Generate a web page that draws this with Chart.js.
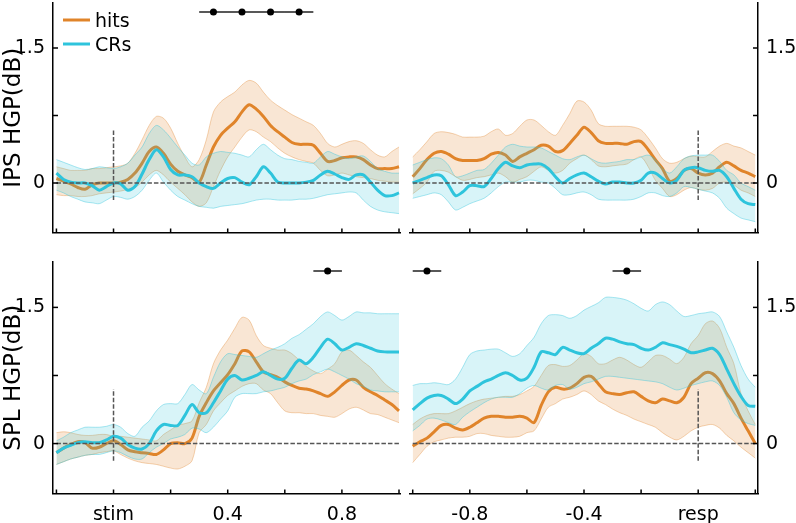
<!DOCTYPE html>
<html>
<head>
<meta charset="utf-8">
<script src="https://cdn.jsdelivr.net/npm/chart.js@4.4.0/dist/chart.umd.min.js"></script>
<style>
  html, body { margin: 0; padding: 0; background: #fff; }
  #wrap { position: relative; width: 796px; height: 523px; }
  #wrap canvas { position: absolute; left: 0; top: 0; }
</style>
</head>
<body>
<div id="wrap">
  <canvas id="ipsStim" width="796" height="523"></canvas>
  <canvas id="ipsResp" width="796" height="523"></canvas>
  <canvas id="splStim" width="796" height="523"></canvas>
  <canvas id="splResp" width="796" height="523"></canvas>
</div>
<script>
// Datos
const timeStim = [-0.2,-0.175,-0.15,-0.125,-0.1,-0.075,-0.05,-0.025,0,0.025,0.05,0.075,0.1,0.125,0.15,0.175,0.2,0.225,0.25,0.275,0.3,0.325,0.35,0.375,0.4,0.425,0.45,0.475,0.5,0.525,0.55,0.575,0.6,0.625,0.65,0.675,0.7,0.725,0.75,0.775,0.8,0.825,0.85,0.875,0.9,0.925,0.95,0.975,1.0];
const timeResp = [-1.0,-0.975,-0.95,-0.925,-0.9,-0.875,-0.85,-0.825,-0.8,-0.775,-0.75,-0.725,-0.7,-0.675,-0.65,-0.625,-0.6,-0.575,-0.55,-0.525,-0.5,-0.475,-0.45,-0.425,-0.4,-0.375,-0.35,-0.325,-0.3,-0.275,-0.25,-0.225,-0.2,-0.175,-0.15,-0.125,-0.1,-0.075,-0.05,-0.025,0,0.025,0.05,0.075,0.1,0.125,0.15,0.175,0.2];

const stimTicks = [-0.2,0,0.2,0.4,0.6,0.8,1.0];
const stimLabelValues = [0,0.4,0.8];
const stimLabelTexts = ['stim','0.4','0.8'];
const respTicks = [-1.0,-0.8,-0.6,-0.4,-0.2,0,0.2];
const respLabelValues = [-0.8,-0.4,0];
const respLabelTexts = ['-0.8','-0.4','resp'];
const yTicks = [0,0.75,1.5];
const yTickLabels = ['0','','1.5'];

// IPS, alineado al estímulo
const ipsStimHits = [0.05,0.02,-0.01,-0.05,-0.07,-0.02,0,0,0,0.01,0.04,0.11,0.22,0.35,0.40,0.33,0.21,0.13,0.09,0.06,0.01,0.20,0.40,0.53,0.61,0.68,0.79,0.87,0.82,0.74,0.64,0.57,0.51,0.45,0.43,0.43,0.42,0.33,0.24,0.25,0.28,0.29,0.29,0.26,0.20,0.16,0.16,0.16,0.18];
const ipsStimHitsHi = [0.18,0.16,0.14,0.14,0.14,0.16,0.16,0.17,0.18,0.19,0.22,0.33,0.48,0.64,0.74,0.72,0.61,0.44,0.29,0.18,0.26,0.48,0.79,0.90,0.96,1.01,1.09,1.14,1.11,1.01,0.92,0.86,0.81,0.76,0.72,0.68,0.64,0.55,0.44,0.40,0.43,0.46,0.47,0.44,0.37,0.31,0.29,0.35,0.40];
const ipsStimHitsLo = [-0.13,-0.14,-0.14,-0.15,-0.15,-0.14,-0.12,-0.11,-0.10,-0.09,-0.07,-0.05,0.01,0.09,0.14,0.09,0.01,-0.06,-0.13,-0.21,-0.26,-0.22,-0.04,0.14,0.29,0.40,0.51,0.59,0.57,0.51,0.46,0.39,0.33,0.29,0.26,0.24,0.22,0.14,0.08,0.09,0.11,0.09,0.07,0.06,0.05,0.03,0.02,0.01,0.01];
const ipsStimCRs = [0.11,0.04,0.01,0,0,-0.03,-0.08,-0.04,0,-0.01,-0.08,-0.04,0.10,0.26,0.37,0.29,0.15,0.09,0.09,0.07,0,-0.04,-0.06,0,0.05,0.06,0.01,-0.02,0.07,0.18,0.11,0.01,0,0,0,0.01,0.03,0.09,0.13,0.10,0.06,0.04,0.09,0.09,0.01,-0.08,-0.14,-0.14,-0.11];
const ipsStimCRsHi = [0.26,0.23,0.20,0.17,0.15,0.16,0.18,0.17,0.16,0.18,0.22,0.31,0.40,0.55,0.64,0.59,0.50,0.40,0.31,0.22,0.20,0.29,0.33,0.35,0.34,0.33,0.31,0.29,0.37,0.43,0.37,0.31,0.27,0.26,0.24,0.23,0.22,0.29,0.35,0.32,0.29,0.27,0.29,0.30,0.24,0.16,0.13,0.11,0.11];
const ipsStimCRsLo = [-0.08,-0.11,-0.15,-0.18,-0.21,-0.22,-0.23,-0.19,-0.15,-0.16,-0.18,-0.15,-0.08,0.03,0.11,0.01,-0.08,-0.15,-0.19,-0.23,-0.26,-0.27,-0.28,-0.26,-0.25,-0.24,-0.23,-0.21,-0.19,-0.18,-0.18,-0.19,-0.19,-0.19,-0.18,-0.18,-0.17,-0.15,-0.13,-0.12,-0.11,-0.10,-0.11,-0.19,-0.26,-0.30,-0.32,-0.33,-0.34];

// IPS, alineado a la respuesta
const ipsRespHits = [0.07,0.16,0.26,0.33,0.35,0.32,0.27,0.25,0.25,0.25,0.27,0.32,0.34,0.31,0.24,0.29,0.33,0.37,0.42,0.41,0.35,0.36,0.44,0.53,0.62,0.56,0.47,0.44,0.44,0.44,0.43,0.46,0.46,0.37,0.26,0.16,0.02,0.05,0.14,0.16,0.11,0.09,0.11,0.18,0.23,0.19,0.14,0.11,0.07];
const ipsRespHitsHi = [0.29,0.37,0.46,0.55,0.57,0.56,0.54,0.51,0.51,0.51,0.52,0.57,0.60,0.53,0.55,0.63,0.70,0.70,0.64,0.57,0.53,0.64,0.77,0.91,0.90,0.81,0.66,0.63,0.63,0.63,0.63,0.62,0.59,0.50,0.39,0.27,0.22,0.23,0.27,0.30,0.29,0.29,0.35,0.41,0.44,0.41,0.39,0.35,0.31];
const ipsRespHitsLo = [-0.12,-0.06,0.01,0.13,0.14,0.12,0.07,0.03,0.04,0.06,0.07,0.09,0.11,0.07,0.01,0.04,0.07,0.13,0.18,0.14,0.11,0.14,0.22,0.27,0.31,0.26,0.19,0.18,0.19,0.20,0.21,0.26,0.29,0.18,0.03,-0.06,-0.15,-0.13,-0.08,-0.05,-0.07,-0.08,-0.06,0,0.01,-0.02,-0.08,-0.11,-0.15];
const ipsRespCRs = [0,0.03,0.06,0.09,0.08,-0.02,-0.14,-0.10,-0.03,-0.03,-0.04,0.05,0.16,0.23,0.19,0.17,0.20,0.21,0.21,0.16,0.07,0,0.05,0.09,0.11,0.07,0.02,-0.01,0.01,0.01,0,0,0.03,0.11,0.11,0.05,0,0.03,0.14,0.17,0.17,0.14,0.13,0.14,0.07,-0.06,-0.18,-0.23,-0.24];
const ipsRespCRsHi = [0.20,0.23,0.26,0.28,0.27,0.20,0.07,0.08,0.11,0.14,0.15,0.22,0.31,0.40,0.43,0.41,0.40,0.40,0.39,0.35,0.31,0.27,0.26,0.29,0.31,0.27,0.23,0.22,0.23,0.24,0.26,0.26,0.29,0.31,0.26,0.16,0.11,0.18,0.27,0.30,0.31,0.31,0.31,0.24,0.14,0.09,0,-0.04,-0.08];
const ipsRespCRsLo = [-0.17,-0.15,-0.13,-0.11,-0.13,-0.21,-0.30,-0.27,-0.23,-0.20,-0.17,-0.11,-0.04,0.01,0.01,0.01,0.03,0.03,0.01,0,-0.06,-0.13,-0.13,-0.11,-0.10,-0.13,-0.18,-0.19,-0.19,-0.19,-0.19,-0.18,-0.15,-0.11,-0.11,-0.14,-0.15,-0.11,-0.04,-0.05,-0.07,-0.09,-0.11,-0.17,-0.28,-0.34,-0.39,-0.41,-0.43];

// SPL, alineado al estímulo
const splStimHits = [-0.10,-0.05,-0.01,0.02,0.01,-0.05,-0.04,0,0.03,-0.01,-0.07,-0.09,-0.10,-0.11,-0.12,-0.07,0,0.01,0,0.06,0.30,0.45,0.58,0.67,0.76,0.88,1.02,1.01,0.90,0.79,0.76,0.73,0.68,0.64,0.61,0.60,0.58,0.55,0.52,0.57,0.64,0.70,0.70,0.62,0.57,0.53,0.48,0.43,0.36];
const splStimHitsHi = [0.12,0.13,0.12,0.10,0.09,0.09,0.10,0.10,0.08,0.08,0.07,0.06,0.05,0.04,0.03,0.10,0.15,0.20,0.22,0.25,0.45,0.62,0.88,1.03,1.14,1.27,1.39,1.36,1.19,1.08,1.05,1.03,1.03,0.99,0.92,0.85,0.80,0.77,0.82,0.88,1.01,1.03,0.97,0.90,0.84,0.75,0.66,0.60,0.55];
const splStimHitsLo = [-0.23,-0.20,-0.17,-0.15,-0.13,-0.12,-0.10,-0.09,-0.08,-0.12,-0.16,-0.19,-0.21,-0.22,-0.23,-0.25,-0.27,-0.28,-0.25,-0.19,0.12,0.21,0.36,0.45,0.53,0.58,0.63,0.66,0.66,0.59,0.55,0.45,0.36,0.34,0.34,0.33,0.33,0.31,0.30,0.29,0.33,0.38,0.40,0.37,0.33,0.32,0.29,0.26,0.23];
const splStimCRs = [-0.10,-0.05,-0.02,0.01,0.02,0.01,0.01,0.04,0.08,0.06,-0.01,-0.05,-0.06,0,0.14,0.21,0.20,0.20,0.31,0.43,0.34,0.34,0.45,0.58,0.71,0.75,0.70,0.72,0.75,0.79,0.75,0.71,0.72,0.83,0.92,0.88,0.95,1.06,1.15,1.10,1.03,1.06,1.10,1.08,1.05,1.02,1.01,1.01,1.01];
const splStimCRsHi = [0.03,0.07,0.12,0.15,0.18,0.18,0.18,0.19,0.21,0.18,0.11,0.08,0.18,0.25,0.36,0.43,0.44,0.44,0.54,0.65,0.59,0.55,0.73,0.90,0.99,0.98,0.97,0.96,0.95,0.99,1.03,1.06,1.10,1.16,1.20,1.26,1.32,1.40,1.45,1.41,1.36,1.40,1.45,1.44,1.44,1.43,1.43,1.43,1.43];
const splStimCRsLo = [-0.23,-0.20,-0.17,-0.15,-0.13,-0.12,-0.12,-0.10,-0.08,-0.10,-0.14,-0.17,-0.17,-0.10,-0.04,0,0.05,0.07,0.10,0.17,0.16,0.12,0.18,0.27,0.36,0.51,0.55,0.55,0.55,0.57,0.58,0.60,0.62,0.66,0.69,0.71,0.76,0.79,0.82,0.79,0.75,0.71,0.66,0.63,0.59,0.58,0.57,0.57,0.57];

// SPL, alineado a la respuesta
const splRespHits = [-0.03,0.02,0.06,0.13,0.20,0.21,0.17,0.15,0.18,0.23,0.28,0.30,0.30,0.29,0.29,0.30,0.28,0.23,0.42,0.57,0.62,0.60,0.61,0.66,0.73,0.74,0.66,0.57,0.55,0.54,0.56,0.57,0.52,0.47,0.45,0.49,0.47,0.45,0.51,0.66,0.72,0.78,0.77,0.69,0.55,0.44,0.28,0.14,0];
const splRespHitsHi = [0.21,0.27,0.31,0.33,0.33,0.33,0.36,0.40,0.44,0.47,0.49,0.50,0.51,0.52,0.52,0.54,0.58,0.63,0.75,0.86,0.87,0.85,0.86,0.92,0.99,0.96,0.88,0.88,0.92,0.95,0.92,0.87,0.84,0.90,0.97,0.97,0.93,0.88,0.95,1.10,1.19,1.32,1.35,1.27,1.06,0.88,0.55,0.36,0.21];
const splRespHitsLo = [-0.21,-0.12,-0.03,0.02,0.04,0.06,0.07,0.07,0.08,0.11,0.11,0.09,0.08,0.07,0.07,0.08,0.12,0.14,0.27,0.40,0.44,0.49,0.51,0.54,0.58,0.54,0.47,0.43,0.38,0.34,0.31,0.27,0.24,0.21,0.18,0.12,0.07,0.04,0.08,0.14,0.18,0.20,0.21,0.17,0.09,0.03,-0.04,-0.10,-0.16];
const splRespCRs = [0.37,0.44,0.50,0.53,0.53,0.49,0.44,0.49,0.58,0.63,0.68,0.71,0.75,0.78,0.75,0.70,0.72,0.84,1.01,1.00,0.98,1.06,1.03,1.00,0.99,1.05,1.10,1.16,1.15,1.12,1.10,1.09,1.05,1.03,1.06,1.11,1.09,1.07,1.04,1.00,1.01,1.03,1.05,0.98,0.82,0.66,0.52,0.42,0.41];
const splRespCRsHi = [0.64,0.66,0.66,0.67,0.66,0.65,0.71,0.84,0.98,1.02,1.03,1.04,1.04,1.00,0.96,0.99,1.08,1.17,1.32,1.41,1.42,1.41,1.38,1.41,1.47,1.51,1.55,1.61,1.61,1.60,1.58,1.54,1.49,1.46,1.53,1.56,1.53,1.46,1.40,1.41,1.43,1.44,1.45,1.40,1.23,1.06,0.86,0.71,0.62];
const splRespCRsLo = [0.14,0.20,0.27,0.28,0.26,0.23,0.21,0.29,0.35,0.40,0.45,0.49,0.51,0.51,0.51,0.55,0.61,0.64,0.61,0.59,0.64,0.65,0.60,0.62,0.66,0.68,0.71,0.74,0.74,0.73,0.72,0.71,0.70,0.69,0.68,0.66,0.62,0.59,0.61,0.64,0.66,0.68,0.69,0.64,0.51,0.34,0.26,0.22,0.20];

// Marcadores de significancia (centros, ±0.05 s)
const sigIpsStim = [0.35,0.45,0.55,0.65];
const sigIpsResp = [];
const sigSplStim = [0.75];
const sigSplResp = [-0.95,-0.25];
const SIG_HALF = 0.05;
const SIG_LEVEL = 1.9;

const ORANGE = '#E0842A';
const CYAN = '#2EC4DC';

Chart.defaults.font.family = "'DejaVu Sans', sans-serif";
Chart.defaults.font.size = 19;
Chart.defaults.color = '#000';

function toPoints(time, values) {
    return time.map((t, i) => ({ x: t, y: values[i] }));
}

function sigPoints(centers) {
    const pts = [];
    centers.forEach(c => {
        pts.push({ x: c - SIG_HALF, y: SIG_LEVEL });
        pts.push({ x: c, y: SIG_LEVEL, center: true });
        pts.push({ x: c + SIG_HALF, y: SIG_LEVEL });
        pts.push({ x: c + SIG_HALF, y: null });
    });
    return pts;
}

// Marcas de eje hacia dentro
const inwardTicks = {
    id: 'inwardTicks',
    afterDraw(chart) {
        const ctx = chart.ctx;
        ctx.save();
        ctx.strokeStyle = '#000';
        ctx.lineWidth = 1.5;
        Object.values(chart.scales).forEach(scale => {
            scale.ticks.forEach(tick => {
                const p = scale.getPixelForValue(tick.value);
                ctx.beginPath();
                if (scale.axis === 'x') {
                    ctx.moveTo(p, scale.top);
                    ctx.lineTo(p, scale.top - 4);
                } else if (scale.position === 'left') {
                    ctx.moveTo(scale.right, p);
                    ctx.lineTo(scale.right + 5, p);
                } else {
                    ctx.moveTo(scale.left, p);
                    ctx.lineTo(scale.left - 5, p);
                }
                ctx.stroke();
            });
        });
        ctx.restore();
    }
};

// Leyenda dibujada a mano en el primer panel
const cornerLegend = {
    id: 'cornerLegend',
    afterDraw(chart, args, opts) {
        if (!opts.show) return;
        const ctx = chart.ctx;
        const a = chart.chartArea;
        const items = [['hits', ORANGE, 17], ['CRs', CYAN, 41]];
        ctx.save();
        ctx.font = "19px 'DejaVu Sans'";
        ctx.textBaseline = 'middle';
        items.forEach(([label, color, dy]) => {
            ctx.strokeStyle = color;
            ctx.lineWidth = 3;
            ctx.beginPath();
            ctx.moveTo(a.left + 10, a.top + dy);
            ctx.lineTo(a.left + 37, a.top + dy);
            ctx.stroke();
            ctx.fillStyle = '#000';
            ctx.fillText(label, a.left + 42, a.top + dy + 2);
        });
        ctx.restore();
    }
};

function makePanel(id, p) {
    const last = p.time.length - 1;
    const datasets = [
        {   // línea en cero
            data: [{ x: p.time[0], y: 0 }, { x: p.time[last], y: 0 }],
            borderColor: '#555', borderWidth: 1.5, borderDash: [4.5, 2], pointRadius: 0, fill: false
        },
        {   // evento (stim / resp)
            data: [{ x: 0, y: -0.19 }, { x: 0, y: 0.6 }],
            borderColor: '#555', borderWidth: 1.5, borderDash: [4.5, 2], pointRadius: 0, fill: false
        },
        {   // significancia
            data: sigPoints(p.sig),
            borderColor: '#222', borderWidth: 1.5, spanGaps: false, fill: false,
            pointRadius: ctx => (ctx.raw && ctx.raw.center) ? 3.5 : 0,
            pointBackgroundColor: '#000', pointBorderWidth: 0
        },
        {
            data: toPoints(p.time, p.crs),
            borderColor: CYAN, borderWidth: 3, pointRadius: 0, fill: false, tension: 0.3
        },
        {
            data: toPoints(p.time, p.crsHi),
            borderColor: 'rgba(46,196,220,0.4)', borderWidth: 1, pointRadius: 0, tension: 0.3,
            backgroundColor: 'rgba(46,196,220,0.19)', fill: '+1'
        },
        {
            data: toPoints(p.time, p.crsLo),
            borderColor: 'rgba(46,196,220,0.4)', borderWidth: 1, pointRadius: 0, tension: 0.3, fill: false
        },
        {
            data: toPoints(p.time, p.hits),
            borderColor: ORANGE, borderWidth: 3, pointRadius: 0, fill: false, tension: 0.3
        },
        {
            data: toPoints(p.time, p.hitsHi),
            borderColor: 'rgba(224,132,42,0.35)', borderWidth: 1, pointRadius: 0, tension: 0.3,
            backgroundColor: 'rgba(224,132,42,0.2)', fill: '+1'
        },
        {
            data: toPoints(p.time, p.hitsLo),
            borderColor: 'rgba(224,132,42,0.35)', borderWidth: 1, pointRadius: 0, tension: 0.3, fill: false
        }
    ];

    return new Chart(document.getElementById(id), {
        type: 'line',
        data: { datasets: datasets },
        options: {
            responsive: false,
            animation: false,
            events: [],
            layout: { padding: p.padding },
            plugins: {
                legend: { display: false },
                tooltip: { enabled: false },
                cornerLegend: { show: !!p.legend }
            },
            scales: {
                x: {
                    type: 'linear',
                    position: 'bottom',
                    min: p.xMin,
                    max: p.xMax,
                    grid: { display: false, drawTicks: false },
                    border: { display: true, color: '#000', width: 1.5 },
                    afterBuildTicks: scale => { scale.ticks = p.xTicks.map(v => ({ value: v })); },
                    afterFit: scale => { scale.height = p.xHeight; scale.paddingLeft = 0; scale.paddingRight = 0; },
                    ticks: {
                        autoSkip: false,
                        maxRotation: 0,
                        padding: 10,
                        callback: value => {
                            if (!p.xLabelValues) return '';
                            const k = p.xLabelValues.findIndex(v => Math.abs(v - value) < 1e-6);
                            return k >= 0 ? p.xLabelTexts[k] : '';
                        }
                    }
                },
                y: {
                    type: 'linear',
                    position: p.side,
                    min: -0.55,
                    max: 2.0,
                    grid: { display: false, drawTicks: false },
                    border: { display: true, color: '#000', width: 1.5 },
                    afterBuildTicks: scale => { scale.ticks = yTicks.map(v => ({ value: v })); },
                    afterFit: scale => { scale.width = p.yWidth; scale.paddingTop = 0; scale.paddingBottom = 0; },
                    ticks: {
                        padding: 8,
                        callback: (value, index) => yTickLabels[index]
                    },
                    title: {
                        display: !!p.yTitle,
                        text: p.yTitle || '',
                        font: { size: 23 },
                        padding: 0
                    }
                }
            }
        },
        plugins: [inwardTicks, cornerLegend]
    });
}

makePanel('ipsStim', {
    time: timeStim, hits: ipsStimHits, hitsHi: ipsStimHitsHi, hitsLo: ipsStimHitsLo,
    crs: ipsStimCRs, crsHi: ipsStimCRsHi, crsLo: ipsStimCRsLo, sig: sigIpsStim,
    xMin: -0.212, xMax: 1.0035, xTicks: stimTicks,
    side: 'left', yWidth: 53, yTitle: 'IPS HGP(dB)', xHeight: 10,
    padding: { left: 0, top: 3, right: 396, bottom: 280.5 }, legend: true
});
makePanel('ipsResp', {
    time: timeResp, hits: ipsRespHits, hitsHi: ipsRespHitsHi, hitsLo: ipsRespHitsLo,
    crs: ipsRespCRs, crsHi: ipsRespCRsHi, crsLo: ipsRespCRsLo, sig: sigIpsResp,
    xMin: -1.0095, xMax: 0.2095, xTicks: respTicks,
    side: 'right', yWidth: 38, xHeight: 10,
    padding: { left: 410, top: 3, right: 0, bottom: 280.5 }
});
makePanel('splStim', {
    time: timeStim, hits: splStimHits, hitsHi: splStimHitsHi, hitsLo: splStimHitsLo,
    crs: splStimCRs, crsHi: splStimCRsHi, crsLo: splStimCRsLo, sig: sigSplStim,
    xMin: -0.212, xMax: 1.0035, xTicks: stimTicks,
    xLabelValues: stimLabelValues, xLabelTexts: stimLabelTexts,
    side: 'left', yWidth: 53, yTitle: 'SPL HGP(dB)', xHeight: 29.5,
    padding: { left: 0, top: 262, right: 396, bottom: 0 }
});
makePanel('splResp', {
    time: timeResp, hits: splRespHits, hitsHi: splRespHitsHi, hitsLo: splRespHitsLo,
    crs: splRespCRs, crsHi: splRespCRsHi, crsLo: splRespCRsLo, sig: sigSplResp,
    xMin: -1.0095, xMax: 0.2095, xTicks: respTicks,
    xLabelValues: respLabelValues, xLabelTexts: respLabelTexts,
    side: 'right', yWidth: 38, xHeight: 29.5,
    padding: { left: 410, top: 262, right: 0, bottom: 0 }
});
</script>
</body>
</html>
